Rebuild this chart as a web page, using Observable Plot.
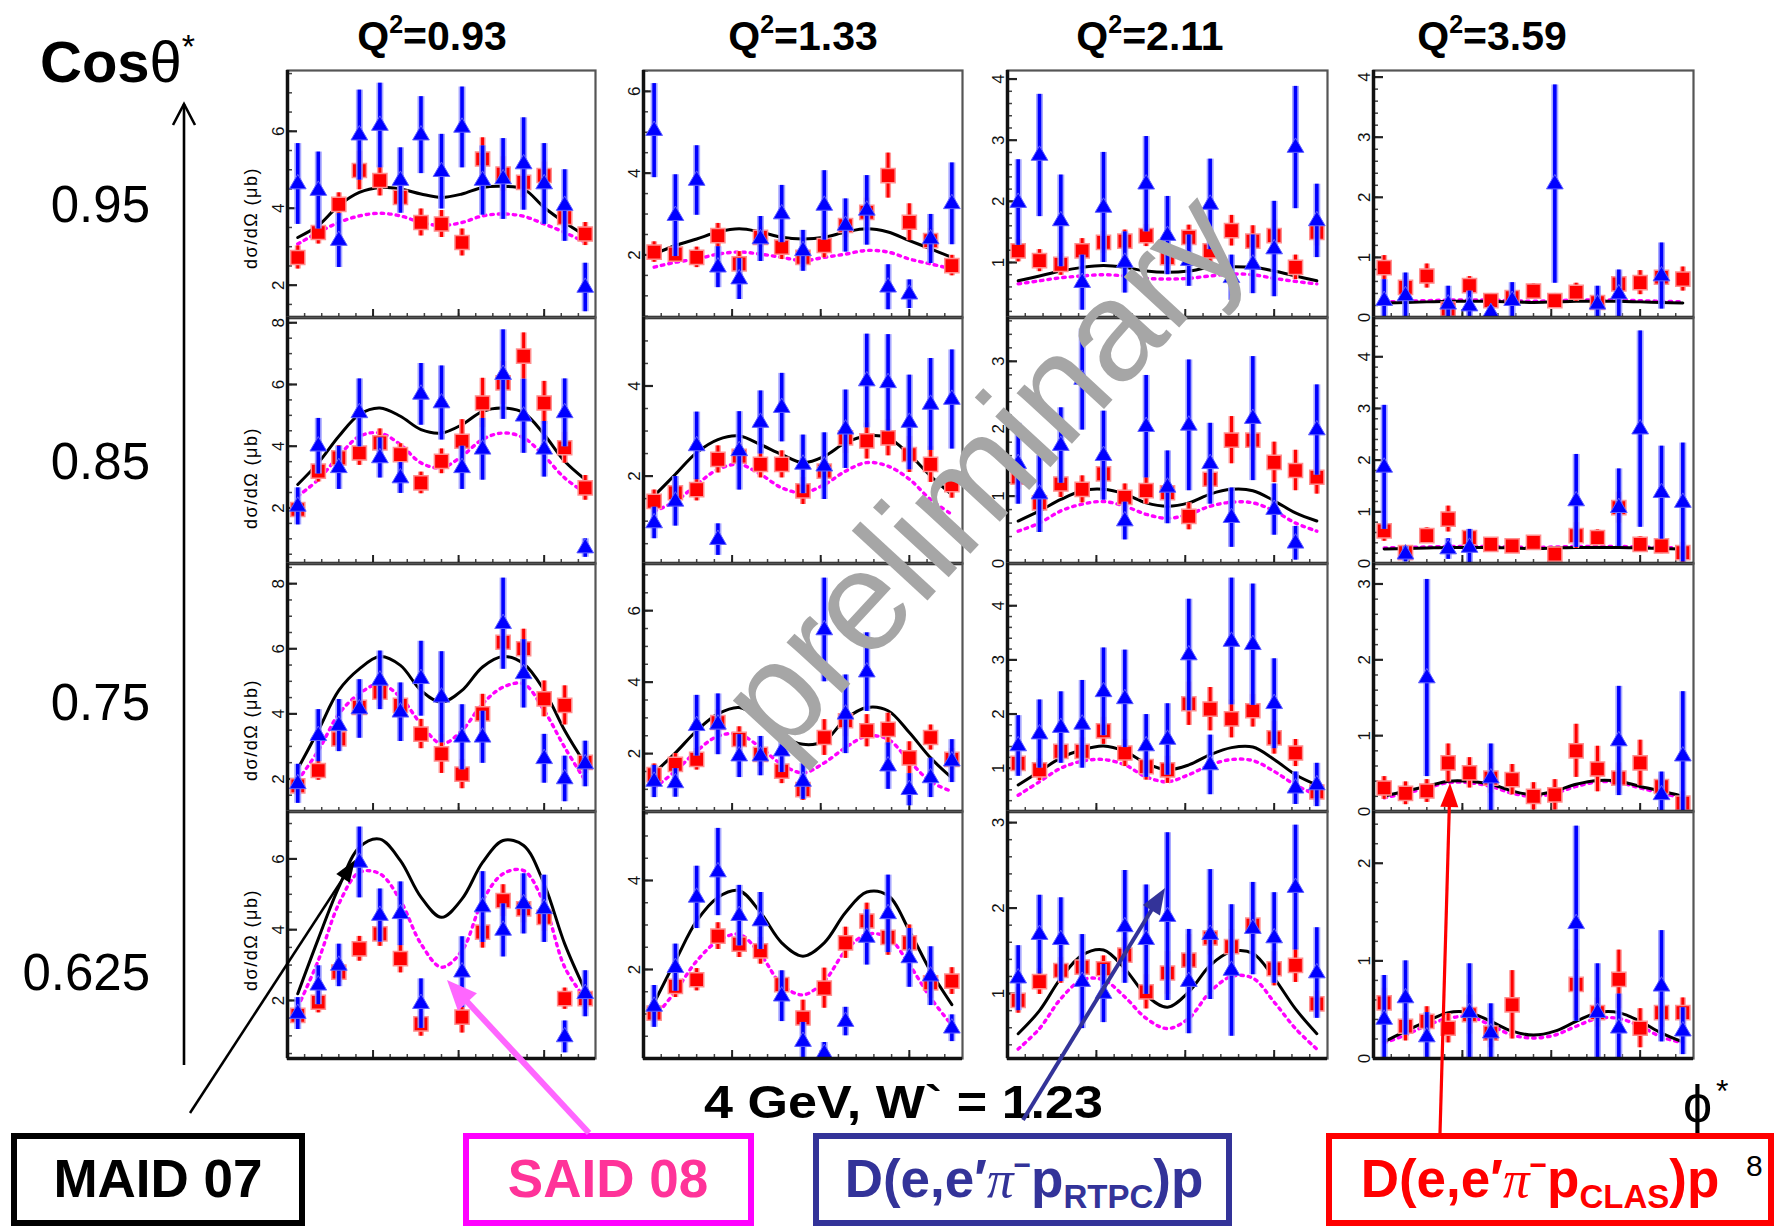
<!DOCTYPE html>
<html><head><meta charset="utf-8">
<script src="https://cdn.jsdelivr.net/npm/d3@7"></script>
<script src="https://cdn.jsdelivr.net/npm/@observablehq/plot@0.6"></script>
<style>
html,body{margin:0;padding:0;background:#fff;}
#fig{position:relative;width:1776px;height:1227px;overflow:hidden;background:#fff;font-family:"Liberation Sans",Arial,sans-serif;}
</style></head><body><div id="fig"></div>
<script>
// ---------------- data ----------------
const phi = [12,36,60,84,108,132,156,180,204,228,252,276,300,324,348];
const q2Values = ["0.93","1.33","2.11","3.59"];
const cosValues = ["0.95","0.85","0.75","0.625"];

// row 1 (cos 0.95)
const clas11 = [2.72,3.37,4.1,4.98,4.72,4.28,3.63,3.59,3.11,5.28,4.89,4.67,4.85,3.76,3.33];
const clasErr11 = [0.3,0.3,0.3,0.5,0.4,0.35,0.35,0.35,0.35,0.55,0.45,0.4,0.35,0.3,0.3];
const rtpc11 = [4.63,4.46,3.16,5.9,6.15,4.72,5.9,4.95,6.1,4.72,4.76,5.15,4.63,4.07,1.94];
const rtpcErr11 = [1.05,1.0,0.7,1.17,1.1,0.85,1.0,0.97,1.05,0.9,1.05,1.2,1.05,0.93,0.63];
const maid11 = [3.24,3.55,4.07,4.41,4.54,4.5,4.37,4.28,4.37,4.54,4.57,4.5,4.02,3.63,3.29];
const said11 = [3.07,3.37,3.63,3.8,3.87,3.8,3.63,3.55,3.63,3.8,3.85,3.79,3.59,3.37,3.11];

const clas12 = [2.07,2.02,1.94,2.47,1.78,2.43,2.19,1.94,2.23,2.72,3.04,3.94,2.8,2.35,1.74];
const clasErr12 = [0.25,0.2,0.25,0.3,0.3,0.25,0.3,0.25,0.3,0.3,0.35,0.55,0.45,0.3,0.25];
const rtpc12 = [5.04,2.96,3.82,1.7,1.41,2.39,3.0,2.1,3.21,2.72,3.09,1.21,1.04,2.39,3.25];
const rtpcErr12 = [1.15,1.0,0.85,0.5,0.5,0.55,0.7,0.5,0.85,0.65,0.85,0.55,0.35,0.6,1.0];
const maid12 = [2.02,2.23,2.39,2.56,2.64,2.56,2.43,2.39,2.43,2.56,2.64,2.56,2.35,2.15,1.94];
const said12 = [1.7,1.82,1.9,2.02,2.07,2.02,1.94,1.86,1.94,2.02,2.11,2.07,1.9,1.78,1.66];

const clas13 = [1.19,1.03,0.97,1.19,1.33,1.35,1.44,1.08,1.41,1.19,1.52,1.35,1.44,0.92,1.49];
const clasErr13 = [0.18,0.18,0.18,0.2,0.18,0.18,0.18,0.2,0.2,0.2,0.25,0.25,0.25,0.2,0.22];
const rtpc13 = [1.98,2.75,1.68,0.67,1.9,1.0,2.28,1.44,1.03,1.95,0.75,0.97,1.22,2.88,1.68];
const rtpcErr13 = [0.7,1.0,0.75,0.45,0.9,0.5,0.78,0.64,0.42,0.74,0.37,0.48,0.78,1.0,0.6];
const maid13 = [0.7,0.78,0.86,0.92,0.95,0.92,0.86,0.84,0.86,0.92,0.93,0.92,0.86,0.78,0.7];
const said13 = [0.65,0.7,0.75,0.78,0.8,0.78,0.74,0.73,0.74,0.78,0.81,0.8,0.74,0.69,0.65];

const clas14 = [0.83,0.5,0.69,0.14,0.53,0.28,0.33,0.44,0.28,0.42,0.25,0.56,0.58,0.67,0.64];
const clasErr14 = [0.2,0.18,0.2,0.15,0.15,0.12,0.12,0.12,0.12,0.15,0.12,0.2,0.2,0.2,0.2];
const rtpc14 = [0.28,0.36,null,0.22,0.19,0.08,0.28,null,2.22,null,0.22,0.39,null,0.69,null];
const rtpcErr14 = [0.35,0.38,null,0.3,0.25,0.1,0.3,null,1.65,null,0.3,0.4,null,0.55,null];
const maid14 = [0.24,0.25,0.26,0.27,0.27,0.27,0.26,0.25,0.26,0.27,0.27,0.27,0.26,0.25,0.24];
const said14 = [0.26,0.27,0.28,0.29,0.29,0.29,0.28,0.27,0.28,0.29,0.29,0.29,0.28,0.27,0.26];

// row 2 (cos 0.85)
const clas21 = [1.95,3.19,3.62,3.78,4.11,3.73,2.81,3.51,4.16,5.4,6.05,6.92,5.4,3.95,2.65];
const clasErr21 = [0.25,0.35,0.4,0.4,0.45,0.35,0.35,0.4,0.7,0.8,0.7,0.75,0.7,0.5,0.4];
const rtpc21 = [2.05,4.0,3.3,5.08,3.62,2.97,5.68,5.4,3.3,3.9,6.32,4.97,3.9,5.08,0.7];
const rtpcErr21 = [0.6,0.9,0.7,1.1,0.65,0.5,1.0,1.2,0.7,1.0,1.45,1.2,0.9,1.1,0.3];
const maid21 = [2.76,3.46,4.32,5.03,5.24,4.97,4.54,4.43,4.7,5.13,5.24,5.08,4.38,3.51,2.92];
const said21 = [2.38,2.92,3.68,4.32,4.43,4.05,3.46,3.3,3.68,4.22,4.43,4.27,3.68,2.97,2.49];

const clas22 = [1.44,1.63,1.7,2.37,2.44,2.26,2.26,1.67,2.11,2.85,2.78,2.85,2.48,2.26,1.81];
const clasErr22 = [0.25,0.25,0.25,0.3,0.3,0.3,0.3,0.3,0.35,0.35,0.4,0.4,0.4,0.4,0.3];
const rtpc22 = [0.96,1.44,2.67,0.59,2.56,3.19,3.52,2.26,2.22,3.04,4.11,4.07,3.19,3.59,3.7];
const rtpcErr22 = [0.35,0.55,0.75,0.35,0.87,0.7,0.76,0.65,0.74,0.87,1.04,1.07,1.05,1.02,1.1];
const maid22 = [1.56,2.04,2.52,2.81,2.89,2.7,2.48,2.3,2.44,2.74,2.89,2.85,2.48,2.0,1.59];
const said22 = [1.22,1.44,1.81,2.15,2.26,2.04,1.74,1.63,1.81,2.11,2.3,2.22,1.93,1.48,1.15];

const clas23 = [1.28,0.9,1.18,1.1,1.33,0.98,1.08,1.05,0.7,1.25,1.83,1.83,1.5,1.38,1.28];
const clasErr23 = [0.18,0.2,0.2,0.2,0.2,0.2,0.2,0.2,0.2,0.2,0.35,0.3,0.3,0.3,0.25];
const rtpc23 = [1.48,1.03,1.75,2.73,1.6,0.63,2.03,1.13,2.05,1.48,0.68,2.15,0.8,0.3,1.98];
const rtpcErr23 = [0.6,0.57,0.56,0.75,0.66,0.28,0.76,0.54,0.97,0.6,0.44,0.92,0.38,0.25,0.67];
const maid23 = [0.63,0.78,0.95,1.08,1.1,1.03,0.9,0.85,0.9,1.03,1.1,1.08,0.93,0.75,0.63];
const said23 = [0.48,0.6,0.78,0.88,0.92,0.85,0.73,0.67,0.73,0.85,0.91,0.9,0.78,0.6,0.48];

const clas24 = [0.63,0.21,0.54,0.86,0.5,0.37,0.34,0.41,0.18,0.54,0.5,1.08,0.37,0.34,0.21];
const clasErr24 = [0.2,0.12,0.15,0.25,0.15,0.12,0.12,0.12,0.12,0.25,0.15,0.3,0.15,0.15,0.2];
const rtpc24 = [1.86,0.18,null,0.28,0.31,null,null,null,null,1.21,null,1.08,2.6,1.37,1.18];
const rtpcErr24 = [1.2,0.15,null,0.2,0.35,null,null,null,null,0.9,null,0.75,1.9,0.9,1.15];
const maid24 = [0.28,0.29,0.3,0.31,0.31,0.31,0.3,0.29,0.3,0.31,0.31,0.31,0.3,0.29,0.28];
const said24 = [0.3,0.31,0.32,0.33,0.33,0.33,0.32,0.31,0.32,0.33,0.33,0.33,0.32,0.31,0.3];

// row 3 (cos 0.75)
const clas31 = [1.79,2.26,3.23,4.2,4.67,4.26,3.38,2.77,2.15,4.0,6.2,6.0,4.46,4.26,2.51];
const clasErr31 = [0.3,0.3,0.35,0.4,0.45,0.45,0.45,0.6,0.45,0.6,0.5,0.6,0.55,0.6,0.35];
const rtpc31 = [1.85,3.33,3.64,4.15,5.03,4.05,5.08,4.51,3.28,3.28,6.77,5.23,2.62,2.0,2.46];
const rtpcErr31 = [0.6,0.8,0.8,0.9,0.9,0.9,1.15,1.4,1.0,0.8,1.4,1.05,0.75,0.7,0.7];
const maid31 = [2.31,3.49,4.72,5.38,5.76,5.49,4.72,4.36,4.72,5.44,5.76,5.54,4.72,3.49,2.46];
const said31 = [1.95,2.87,4.0,4.62,4.92,4.51,3.69,3.08,3.49,4.31,4.82,4.92,4.1,2.97,1.95];

const clas32 = [1.41,1.7,1.84,2.87,2.4,1.98,1.51,0.99,2.45,2.92,2.64,2.68,1.88,2.45,1.84];
const clasErr32 = [0.3,0.3,0.3,0.35,0.35,0.35,0.35,0.3,0.5,0.45,0.45,0.45,0.45,0.35,0.3];
const rtpc32 = [1.22,1.18,2.78,2.82,1.93,1.93,2.07,1.22,5.46,3.1,4.28,1.65,0.99,1.32,1.79];
const rtpcErr32 = [0.45,0.4,0.85,0.85,0.6,0.55,0.6,0.5,1.45,1.1,1.1,0.65,0.45,0.55,0.6];
const maid32 = [1.46,2.02,2.64,3.11,3.29,2.97,2.49,2.26,2.35,2.97,3.29,3.2,2.59,1.88,1.32];
const said32 = [1.04,1.51,2.07,2.49,2.54,2.17,1.7,1.46,1.74,2.17,2.49,2.4,1.79,1.22,0.94];

const clas33 = [1.09,0.97,1.31,1.31,1.69,1.28,1.03,0.97,2.19,2.09,1.91,2.06,1.56,1.28,0.56];
const clasErr33 = [0.2,0.2,0.2,0.25,0.25,0.25,0.25,0.25,0.4,0.4,0.35,0.3,0.3,0.25,0.2];
const rtpc33 = [1.41,1.63,1.75,1.81,2.41,2.28,1.41,1.53,3.09,1.06,3.34,3.28,2.19,0.63,0.69];
const rtpcErr33 = [0.56,0.63,0.66,0.81,0.81,0.9,0.58,0.66,1.03,0.55,1.17,1.12,0.83,0.3,0.4];
const maid33 = [0.69,0.94,1.19,1.34,1.41,1.31,1.09,0.97,1.06,1.25,1.38,1.39,1.16,0.88,0.69];
const said33 = [0.5,0.75,1.0,1.13,1.16,1.06,0.84,0.75,0.88,1.06,1.16,1.14,0.94,0.69,0.5];

const clas34 = [0.31,0.24,0.27,0.64,0.51,0.44,0.42,0.2,0.22,0.8,0.56,0.44,0.64,0.33,0.11];
const clasErr34 = [0.15,0.15,0.15,0.25,0.2,0.2,0.2,0.18,0.2,0.35,0.3,0.2,0.3,0.15,0.15];
const rtpc34 = [null,null,1.76,null,null,0.44,null,null,null,null,null,0.93,null,0.22,0.73];
const rtpcErr34 = [null,null,1.3,null,null,0.45,null,null,null,null,null,0.72,null,0.3,0.85];
const maid34 = [0.2,0.27,0.33,0.4,0.4,0.36,0.27,0.22,0.27,0.36,0.41,0.4,0.33,0.27,0.2];
const said34 = [0.18,0.24,0.31,0.38,0.38,0.33,0.24,0.2,0.24,0.33,0.39,0.38,0.31,0.24,0.18];

// row 4 (cos 0.625)
const clas41 = [1.58,1.95,2.8,3.46,3.88,3.18,1.34,null,1.53,3.93,4.82,4.59,4.35,2.05,2.05];
const clasErr41 = [0.25,0.3,0.3,0.35,0.35,0.4,0.35,null,0.45,0.45,0.45,0.4,0.4,0.3,0.3];
const rtpc41 = [1.63,2.43,2.99,5.9,4.4,4.45,1.91,null,2.8,4.64,3.98,4.73,4.59,0.97,2.19];
const rtpcErr41 = [0.45,0.55,0.6,1.0,0.75,0.9,0.7,null,1.0,1.0,0.75,0.85,0.95,0.45,0.65];
const maid41 = [2.19,3.74,5.2,6.33,6.56,5.95,4.92,4.35,4.87,5.9,6.52,6.38,5.29,3.6,2.28];
const said41 = [1.81,3.13,4.73,5.62,5.58,4.82,3.6,2.94,3.41,4.82,5.58,5.67,4.73,2.94,2.05];

const clas42 = [1.02,1.62,1.77,2.75,2.57,2.42,1.66,0.91,1.58,2.6,3.09,2.72,2.6,1.7,1.74];
const clasErr42 = [0.2,0.25,0.25,0.3,0.3,0.3,0.3,0.4,0.45,0.35,0.4,0.4,0.4,0.35,0.3];
const rtpc42 = [1.17,2.04,3.62,4.19,3.21,3.09,1.4,0.38,0.11,0.83,2.72,3.25,2.26,1.85,0.68];
const rtpcErr42 = [0.47,0.53,0.7,0.98,0.68,0.64,0.57,0.43,0.25,0.32,0.62,0.87,0.66,0.66,0.3];
const maid42 = [1.25,2.19,3.09,3.62,3.77,3.28,2.6,2.3,2.6,3.28,3.74,3.66,2.87,1.96,1.21];
const said42 = [0.91,1.51,2.19,2.64,2.79,2.34,1.66,1.43,1.74,2.42,2.79,2.72,2.11,1.36,0.75];

const clas43 = [0.92,1.14,1.27,1.31,1.29,1.45,1.02,1.24,1.39,1.65,1.55,1.8,1.29,1.33,0.88];
const clasErr43 = [0.15,0.15,0.15,0.15,0.15,0.2,0.2,0.25,0.3,0.2,0.2,0.15,0.2,0.2,0.15];
const rtpc43 = [1.18,1.69,1.63,1.14,1.0,1.78,1.63,1.9,1.14,1.69,1.27,1.76,1.65,2.24,1.24];
const rtpcErr43 = [0.38,0.46,0.49,0.55,0.34,0.66,0.64,0.98,0.61,0.76,0.77,0.54,0.53,0.73,0.53];
const maid43 = [0.53,0.8,1.18,1.45,1.51,1.29,0.98,0.84,1.02,1.33,1.49,1.47,1.18,0.82,0.53];
const said43 = [0.35,0.59,0.94,1.16,1.16,0.96,0.71,0.59,0.71,1.02,1.2,1.18,0.9,0.59,0.35];

const clas44 = [0.57,0.33,0.38,0.31,0.45,0.26,0.55,null,null,0.76,0.47,0.81,0.31,0.47,0.47];
const clasErr44 = [0.15,0.15,0.15,0.15,0.2,0.15,0.35,null,null,0.35,0.15,0.3,0.2,0.15,0.15];
const rtpc44 = [0.4,0.62,0.22,null,0.47,0.26,null,null,null,1.38,0.47,0.31,null,0.74,0.28];
const rtpcErr44 = [0.45,0.38,0.25,null,0.5,0.3,null,null,null,1.0,0.5,0.35,null,0.57,0.24];
const maid44 = [0.17,0.28,0.38,0.47,0.47,0.38,0.28,0.24,0.28,0.38,0.47,0.47,0.38,0.26,0.17];
const said44 = [0.16,0.24,0.34,0.41,0.43,0.34,0.24,0.21,0.24,0.33,0.41,0.41,0.33,0.22,0.16];

// axis ranges and tick labels per panel [row][col]
const yDomains = [
  [[1.16,7.58],[0.47,6.51],[0.1,4.14],[0,4.11]],
  [[0.2,8.17],[0.06,5.52],[0,3.65],[0,4.76]],
  [[1.0,8.62],[0.38,7.32],[0.2,4.78],[0,3.27]],
  [[0.36,7.34],[0,5.55],[0.24,3.13],[0,2.53]]
];
const yMajorTicks = [
  [[2,4,6],[2,4,6],[1,2,3,4],[0,1,2,3,4]],
  [[2,4,6,8],[2,4],[0,1,2,3],[0,1,2,3,4]],
  [[2,4,6,8],[2,4,6],[1,2,3,4],[0,1,2,3]],
  [[2,4,6],[2,4],[1,2,3],[0,1,2]]
];
const yMinorStep = [0.5, 0.5, 0.2, 0.2];
const xMajorTicks = [100, 200, 300];

// ---------------- layout ----------------
const colX = [287, 643, 1007, 1373];
const colW = [308, 319, 320, 320];
const rowY = [70, 317, 563, 811];
const rowH = [247, 246, 248, 247];
const titleX = [432, 803, 1150, 1492];
const rowLabelBase = [222, 479, 720, 990];
const yTitleCenter = [218, 478, 730, 940];

const src = {clas11,clas12,clas13,clas14,clas21,clas22,clas23,clas24,clas31,clas32,clas33,clas34,clas41,clas42,clas43,clas44,
  clasErr11,clasErr12,clasErr13,clasErr14,clasErr21,clasErr22,clasErr23,clasErr24,clasErr31,clasErr32,clasErr33,clasErr34,clasErr41,clasErr42,clasErr43,clasErr44,
  rtpc11,rtpc12,rtpc13,rtpc14,rtpc21,rtpc22,rtpc23,rtpc24,rtpc31,rtpc32,rtpc33,rtpc34,rtpc41,rtpc42,rtpc43,rtpc44,
  rtpcErr11,rtpcErr12,rtpcErr13,rtpcErr14,rtpcErr21,rtpcErr22,rtpcErr23,rtpcErr24,rtpcErr31,rtpcErr32,rtpcErr33,rtpcErr34,rtpcErr41,rtpcErr42,rtpcErr43,rtpcErr44,
  maid11,maid12,maid13,maid14,maid21,maid22,maid23,maid24,maid31,maid32,maid33,maid34,maid41,maid42,maid43,maid44,
  said11,said12,said13,said14,said21,said22,said23,said24,said31,said32,said33,said34,said41,said42,said43,said44};

function pts(ys, es) {
  return phi.map((x, i) => ({x, y: ys[i], e: es ? es[i] : 0})).filter(d => d.y != null);
}

const fig = document.getElementById("fig");
const mL = 34, mR = 3, mT = 3, mB = 3;

for (let r = 0; r < 4; r++) {
  for (let c = 0; c < 4; c++) {
    const k = `${r + 1}${c + 1}`;
    const W = colW[c], H = rowH[r];
    const dom = yDomains[r][c];
    const majors = yMajorTicks[r][c].filter(v => v >= dom[0] - 1e-9 && v <= dom[1]);
    const step = yMinorStep[c];
    const minors = d3.range(Math.ceil(dom[0] / step) * step, dom[1], step).map(v => +v.toFixed(3));
    const xMinor = d3.range(20, 360, 20);
    const clas = pts(src["clas" + k], src["clasErr" + k]);
    const rtpc = pts(src["rtpc" + k], src["rtpcErr" + k]);
    const maid = pts(src["maid" + k]);
    const said = pts(src["said" + k]);
    const chart = Plot.plot({
      width: W + mL + mR, height: H + mT + mB,
      marginLeft: mL, marginRight: mR, marginTop: mT, marginBottom: mB,
      x: {domain: [0, 360], axis: null},
      y: {domain: dom, axis: null},
      style: {background: "transparent", overflow: "visible", fontFamily: "Liberation Sans, Arial, sans-serif"},
      marks: [
        Plot.tickY(minors, {y: d => d, stroke: "#444", strokeWidth: 1.5, insetRight: W - 5}),
        Plot.tickY(majors, {y: d => d, stroke: "#222", strokeWidth: 2.2, insetRight: W - 10}),
        Plot.tickX(xMinor, {x: d => d, stroke: "#444", strokeWidth: 1.5, insetTop: H - 4}),
        Plot.tickX(xMajorTicks, {x: d => d, stroke: "#222", strokeWidth: 2, insetTop: H - 8}),
        Plot.line(said, {x: "x", y: "y", curve: "catmull-rom", stroke: "#ff00ff", strokeWidth: 3.4, strokeDasharray: "2.5,5", clip: true}),
        Plot.line(maid, {x: "x", y: "y", curve: "catmull-rom", stroke: "#000", strokeWidth: 3, clip: true}),
        Plot.ruleX(clas, {x: "x", y1: d => d.y - d.e, y2: d => d.y + d.e, stroke: "#ff9a9a", strokeWidth: 6, clip: true}),
        Plot.ruleX(clas, {x: "x", y1: d => d.y - d.e, y2: d => d.y + d.e, stroke: "#ff0000", strokeWidth: 3, clip: true}),
        Plot.dot(clas, {x: "x", y: "y", symbol: "square", r: 8, fill: "#ff0000", stroke: "#ff8f8f", strokeWidth: 1.5, clip: true}),
        Plot.ruleX(rtpc, {x: "x", y1: d => d.y - d.e, y2: d => d.y + d.e, stroke: "#9a9aff", strokeWidth: 7, strokeOpacity: 0.85, clip: true}),
        Plot.ruleX(rtpc, {x: "x", y1: d => d.y - d.e, y2: d => d.y + d.e, stroke: "#0000ff", strokeWidth: 3.6, clip: true}),
        Plot.dot(rtpc, {x: "x", y: "y", symbol: "triangle", r: 6.2, fill: "#0000ff", stroke: "#6060ff", strokeWidth: 1, clip: true}),
        Plot.frame({stroke: "#555", strokeWidth: 2.2}),
        Plot.ruleX([0], {stroke: "#111", strokeWidth: 3.5}),
        Plot.ruleY([dom[0]], {stroke: "#111", strokeWidth: 3.5}),
        Plot.axisY({ticks: majors, label: null, tickSize: 0, tickRotate: -90, tickPadding: 4, fontSize: 17, tickFormat: d => String(d), fill: "#111"})
      ]
    });
    chart.style.position = "absolute";
    chart.style.left = (colX[c] - mL) + "px";
    chart.style.top = (rowY[r] - mT) + "px";
    fig.appendChild(chart);
  }
}

// ---------------- annotations ----------------
function arrow(x1, y1, x2, y2, color, w, hl, hw) {
  const dx = x2 - x1, dy = y2 - y1, L = Math.hypot(dx, dy), ux = dx / L, uy = dy / L;
  const bx = x2 - ux * hl, by = y2 - uy * hl, px = -uy, py = ux;
  return `<line x1="${x1}" y1="${y1}" x2="${bx + ux * 2}" y2="${by + uy * 2}" stroke="${color}" stroke-width="${w}"/>` +
    `<polygon points="${x2},${y2} ${bx + px * hw},${by + py * hw} ${bx - px * hw},${by - py * hw}" fill="${color}"/>`;
}

let s = `<svg xmlns="http://www.w3.org/2000/svg" width="1776" height="1227" style="position:absolute;left:0;top:0;font-family:'Liberation Sans',Arial,sans-serif">`;
// Cos theta axis label and arrow
s += `<text x="40" y="82" font-size="58" fill="#000"><tspan font-weight="bold">Cos</tspan><tspan>θ</tspan><tspan font-size="34" dy="-24">*</tspan></text>`;
s += `<line x1="184" y1="1065" x2="184" y2="104" stroke="#000" stroke-width="2.6"/>`;
s += `<polyline points="173,125 184,104 195,125" fill="none" stroke="#000" stroke-width="2.6"/>`;
cosValues.forEach((v, i) => { s += `<text x="150" y="${rowLabelBase[i]}" font-size="51" text-anchor="end">${v}</text>`; });
q2Values.forEach((v, i) => {
  s += `<text x="${titleX[i]}" y="50" font-size="41" font-weight="bold" text-anchor="middle">Q<tspan font-size="25" dy="-17">2</tspan><tspan dy="17">=${v}</tspan></text>`;
});
yTitleCenter.forEach(cy => {
  s += `<text transform="translate(257,${cy}) rotate(-90)" font-size="18" letter-spacing="1.5" text-anchor="middle">dσ/dΩ (μb)</text>`;
});
// bottom text
s += `<text x="704" y="1118" font-size="46" font-weight="bold" textLength="399" lengthAdjust="spacingAndGlyphs">4 GeV, W\` = 1.23</text>`;
s += `<text x="1683" y="1122" font-size="52">ϕ</text><text x="1716" y="1102" font-size="32">*</text>`;
// legend boxes
s += `<rect x="14" y="1136" width="288" height="87" fill="#fff" stroke="#000" stroke-width="6"/>`;
s += `<text x="158" y="1197" font-size="53" font-weight="bold" text-anchor="middle" fill="#000">MAID 07</text>`;
s += `<rect x="466" y="1136" width="285" height="87" fill="#fff" stroke="#ff00ff" stroke-width="6"/>`;
s += `<text x="608" y="1197" font-size="53" font-weight="bold" text-anchor="middle" fill="#ff3399">SAID 08</text>`;
s += `<rect x="816" y="1136" width="413" height="87" fill="#fff" stroke="#333399" stroke-width="6"/>`;
s += `<text x="1024" y="1197" font-size="53" font-weight="bold" text-anchor="middle" fill="#333399">D(e,e′<tspan font-style="italic" font-weight="normal" font-family="Liberation Serif, serif">π</tspan><tspan font-size="30" dy="-22">−</tspan><tspan dy="22">p</tspan><tspan font-size="33" dy="11">RTPC</tspan><tspan dy="-11">)p</tspan></text>`;
s += `<rect x="1329" y="1136" width="442" height="87" fill="#fff" stroke="#ff0000" stroke-width="6"/>`;
s += `<text x="1540" y="1197" font-size="53" font-weight="bold" text-anchor="middle" fill="#ff0000">D(e,e′<tspan font-style="italic" font-weight="normal" font-family="Liberation Serif, serif">π</tspan><tspan font-size="30" dy="-22">−</tspan><tspan dy="22">p</tspan><tspan font-size="33" dy="11">CLAS</tspan><tspan dy="-11">)p</tspan></text>`;
s += `<text x="1746" y="1176" font-size="30">8</text>`;
// pointer arrows
s += arrow(190, 1113, 355, 860, "#000", 2.5, 22, 8);
s += arrow(589, 1133, 447, 980, "#ff66ff", 6, 30, 13);
s += arrow(1023, 1120, 1165, 888, "#333399", 4, 26, 10);
s += arrow(1440, 1133, 1450, 783, "#ff0000", 3.2, 24, 9);
// watermark
s += `<text transform="translate(990,478) rotate(-47.3)" dy="37" font-size="142" fill="#a6a6a6" text-anchor="middle">preliminary</text>`;
s += `</svg>`;
const ov = document.createElement("div");
ov.innerHTML = s;
fig.appendChild(ov.firstChild);
</script>
</body></html>
